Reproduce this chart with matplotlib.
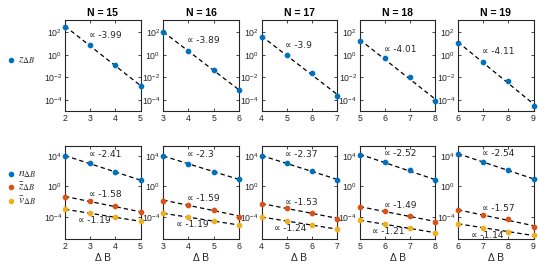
import numpy as np
import matplotlib
matplotlib.use("Agg")
import matplotlib.pyplot as plt
from matplotlib.lines import Line2D

plt.rcParams['font.family'] = ['Liberation Sans', 'DejaVu Sans']
plt.rcParams['mathtext.fontset'] = 'stix'

# ---- data ----
Ns = [15, 16, 17, 18, 19]
x_start = [2, 3, 4, 5, 6]

z_top = [
    [300, 7.4, 0.12, 0.0016],
    [100, 2.3, 0.048, 7e-4],
    [38, 1.0, 0.024, 2.3e-4],
    [17, 0.49, 0.01, 8e-5],
    [10.5, 0.24, 0.0044, 3e-5],
]
top_exp = ["-3.99", "-3.89", "-3.9", "-4.01", "-4.11"]

n_vals = [
    [1e4, 1.0e3, 69, 7],
    [1e4, 830, 76, 9.3],
    [1e4, 1.0e3, 102, 7.9],
    [1.35e4, 1.38e3, 126, 6.3],
    [1.66e4, 1.7e3, 126, 9.1],
]
zb_vals = [
    [10**-1.36, 10**-1.88, 10**-2.57, 10**-3.35],
    [10**-1.84, 10**-2.4, 10**-3.0, 10**-3.92],
    [10**-2.28, 10**-2.8, 10**-3.4, 10**-4.2],
    [10**-2.66, 10**-3.22, 10**-3.83, 10**-4.6],
    [10**-3.1, 10**-3.7, 10**-4.22, 10**-5.22],
]
vb_vals = [
    [10**-2.96, 10**-3.48, 10**-4.0, 10**-4.52],
    [10**-3.48, 10**-4.0, 10**-4.48, 10**-5.0],
    [10**-4.0, 10**-4.44, 10**-5.0, 10**-5.56],
    [10**-4.36, 10**-4.93, 10**-5.45, 10**-6.0],
    [10**-4.84, 10**-5.36, 10**-5.88, 10**-6.36],
]
n_exp = ["-2.41", "-2.3", "-2.37", "-2.52", "-2.54"]
zb_exp = ["-1.58", "-1.59", "-1.53", "-1.49", "-1.57"]
vb_exp = ["-1.19", "-1.19", "-1.24", "-1.21", "-1.14"]

BLUE = '#0072BD'
ORANGE = '#D95319'
YELLOW = '#EDB120'
AXC = '#262626'

fig = plt.figure(figsize=(5.38, 2.69), dpi=100)
W, H = 538, 269

def add_ax(left_px, top_px, w_px, h_px):
    return fig.add_axes([left_px / W, 1 - (top_px + h_px) / H, w_px / W, h_px / H])

def style(ax, yticks, ylim, xs):
    ax.set_yscale('log')
    ax.set_xlim(xs[0], xs[-1])
    ax.set_ylim(*ylim)
    ax.set_xticks(xs)
    ax.set_xticklabels([str(v) for v in xs])
    ax.set_yticks(yticks)
    ax.set_yticklabels([r'$\mathregular{10^{%d}}$' % int(round(np.log10(t))) for t in yticks])
    ax.yaxis.set_minor_locator(matplotlib.ticker.NullLocator())
    ax.tick_params(direction='in', length=2.5, width=0.6, colors=AXC,
                   labelsize=6.3, top=True, right=True, pad=2)
    for s in ax.spines.values():
        s.set_color(AXC)
        s.set_linewidth(0.8)
    ax.set_facecolor('white')

def fit_line(ax, xs, ys):
    xs = np.asarray(xs, float)
    p = np.polyfit(xs, np.log(ys), 1)
    xx = np.linspace(xs[0], xs[-1], 50)
    ax.plot(xx, np.exp(np.polyval(p, xx)), ls=(0, (3.5, 2.5)), color='black', lw=0.9, zorder=2)

def dots(ax, xs, ys, c):
    ax.plot(xs, ys, 'o', ms=3.1, color=c, mec=c, clip_on=False, zorder=3)

txtkw = dict(fontsize=6.5, color=AXC, ha='left', va='center', family=['DejaVu Sans'])

for i in range(5):
    xs = list(range(x_start[i], x_start[i] + 4))
    left = 65 + i * 98.25
    # top row
    ax = add_ax(left, 20, 75.5, 91)
    style(ax, [1e-4, 1e-2, 1e0, 1e2], (1e-5, 10**3.1), xs)
    fit_line(ax, xs, z_top[i])
    dots(ax, xs, z_top[i], BLUE)
    ax.text(xs[1] - 0.05, z_top[i][0] * 0.18, u'\u221d ' + top_exp[i], **txtkw)
    ax.set_title('N = %d' % Ns[i], fontsize=7.5, fontweight='bold', color='black', pad=3)

    # bottom row
    ax = add_ax(left, 145.7, 75.5, 93.6)
    style(ax, [1e-4, 1e0, 1e4], (10**-6.86, 10**5.3), xs)
    for ys, c in ((n_vals[i], BLUE), (zb_vals[i], ORANGE), (vb_vals[i], YELLOW)):
        fit_line(ax, xs, ys)
    for ys, c in ((n_vals[i], BLUE), (zb_vals[i], ORANGE), (vb_vals[i], YELLOW)):
        dots(ax, xs, ys, c)
    ax.text(xs[1] - 0.05, n_vals[i][0] * 1.3, u'\u221d ' + n_exp[i], **txtkw)
    ax.text(xs[1] - 0.05, zb_vals[i][0] * 1.8, u'\u221d ' + zb_exp[i], **txtkw)
    ax.text(xs[0] + 0.5, vb_vals[i][0] / 30, u'\u221d ' + vb_exp[i], **txtkw)
    ax.set_xlabel(u'\u0394 B', fontsize=7.5, color=AXC, labelpad=1.5)

# legends (manual)
def leg(y_px, label, c):
    fig.add_artist(Line2D([11 / W], [1 - y_px / H], marker='o', ms=3.0, color=c,
                          mec=c, ls='none', transform=fig.transFigure))
    fig.text(18 / W, 1 - y_px / H, label, fontsize=8.5, color=AXC, va='center', ha='left')

leg(60, r'$z_{\Delta B}$', BLUE)
leg(174, r'$n_{\Delta B}$', BLUE)
leg(187, r'$\bar{z}_{\Delta B}$', ORANGE)
leg(201, r'$\bar{v}_{\Delta B}$', YELLOW)

fig.savefig('out.png', dpi=100)
